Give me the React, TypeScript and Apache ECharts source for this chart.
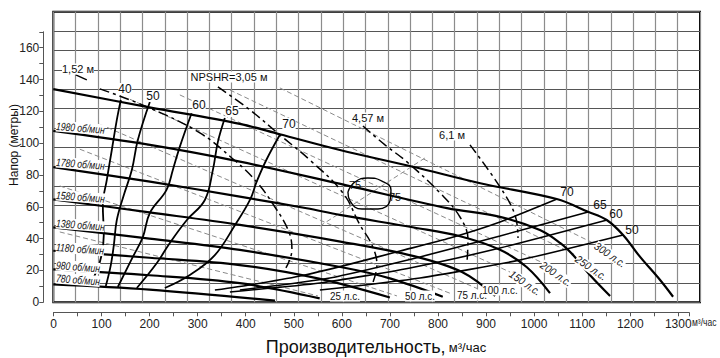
import React, { useEffect, useRef } from 'react';
import * as echarts from 'echarts';

// ---- axis values ----
const X_MAX = 1345;
const Y_MAX = 182.6;
const xTickMax = 1322;
const yTickMax = 170;

// ---- head curves (m3/h, m) ----
const speedNames = ['2180', '1980 об/мин', '1780 об/мин', '1580 об/мин', '1380 об/мин', '1180 об/мин', '980 об/мин', '780 об/мин'];
const h2180 = [[0, 133.9], [200, 122.5], [388, 112.1], [471, 105.6], [596, 95.7], [750, 85], [888, 74.8], [1047, 64.9], [1112, 56.9], [1151, 51.7], [1185, 42.3], [1220, 28.7], [1262, 14.0], [1289, 3.5]];
const h1980 = [[0, 107.7], [201, 98.9], [388, 88.4], [610, 73.5], [819, 59.2], [929, 53.7], [1012, 45.4], [1054, 37.3], [1081, 29.7], [1116, 17.2], [1158, 4]];
const h1780 = [[0, 84.9], [201, 75.8], [388, 66.4], [527, 59.1], [596, 54.9], [750, 47], [846, 41.5], [929, 33], [985, 22], [1033, 5.8]];
const h1580 = [[0, 64.7], [200, 56.5], [388, 48.6], [600, 38], [750, 29], [850, 19], [919, 4]];
const h1380 = [[0, 47.1], [200, 40], [388, 32.9], [600, 22], [700, 15], [810, 3.5]];
const h1180 = [[0, 32.4], [200, 28], [388, 23.4], [550, 15], [700, 3]];
const h980 = [[0, 20.7], [200, 17], [388, 12], [554, 2.5]];
const h780 = [[0, 11.3], [200, 8], [461, 1]];
const headCurves = [h2180, h1980, h1780, h1580, h1380, h1180, h980, h780];

// ---- efficiency contours (%) ----
const effNames = ['40', '50', '60', '65', '70'];
const eff40 = [[140.4, 127.2], [132.1, 114.6], [121.7, 95.7], [111.3, 76.9], [103, 61.2], [105, 42.3], [96.8, 25.3], [76, 10.9]];
const eff50 = [[200.8, 125.9], [175.8, 102], [163.3, 83.1], [146.7, 67.4], [132.1, 51.7], [125.9, 36], [119.6, 23.4], [109.2, 10.2]];
const eff60 = [[287.6, 118.8], [263.2, 97.8], [248.6, 83.2], [235.5, 70.6], [200.8, 56.1], [186.2, 41], [165.4, 28.5], [134.2, 9.6]];
const eff65 = [[356.8, 115.8], [342.3, 100.8], [331.9, 83.2], [315.2, 64.3], [277.8, 51.7], [242.4, 37.3], [215.4, 24.7], [173.7, 9]];
const eff70 = [[471, 105.1], [443, 89.4], [423, 75.8], [409, 64.3], [378, 48.6], [336, 29.7], [284, 17.2], [232, 9]];
const effRight70 = [[1047.7, 64.9], [929.1, 50.5], [825.1, 40.4], [721, 32.2], [617, 24.0], [513, 16.5], [408.9, 10.9], [336.1, 7.7]];
const effRight65 = [[1112.2, 56.8], [929.1, 41.7], [762.6, 28.5], [575.3, 15.3], [388, 7.7]];
const effRight60 = [[1151.7, 51.7], [929.1, 34.1], [741.8, 21.6], [554.5, 12.1], [367.3, 6.5]];
const effRight50 = [[1185, 42.3], [970.7, 26.6], [762.6, 15.3], [554.5, 7.7]];
const eff75 = [[612.8, 69.3], [627.4, 75.6], [654.4, 78.1], [683.5, 76.2], [702.3, 70.6], [700.2, 63.7], [675.2, 58.6], [641.9, 58.6], [617, 63.7], [612.8, 69.3]];
const effLeft = [eff40, eff50, eff60, eff65, eff70];
const effRight = [effRight70, effRight65, effRight60, effRight50];

// ---- NPSHR (m) ----
const npshNames = ['1,52 м', 'NPSHR=3,05 м', '4,57 м', '6,1 м'];
const npsh152Leader = [[46.8, 142.9], [69.7, 139.8]];
const npsh152 = [[96.8, 134.1], [200.8, 122.1], [304.8, 106.4], [371.4, 90.7], [419.3, 76.9], [460.9, 59.9], [490, 44.2], [496.3, 32.9], [483.8, 21.6]];
const npsh305 = [[342.3, 135.3], [408.9, 120.9], [471.3, 105.1], [533.7, 89.4], [602.4, 68.7], [637.8, 48.6], [662.7, 36], [673.1, 23.4], [662.7, 10.9]];
const npsh457 = [[644, 110.8], [689.8, 98.9], [735.6, 88.2], [804.3, 68.7], [845.8, 53.6], [862.5, 39.2], [860.4, 25.3]];
const npsh61 = [[866.6, 98.9], [929, 72.5], [960.2, 54.9], [966.5, 40.4]];

// ---- power (л.с.) ----
const powerNames = ['25 л.с.', '50 л.с.', '75 л.с.', '100 л.с.', '150 л.с.', '200 л.с.', '250 л.с.', '300 л.с.'];
const power25 = [[13.5, 44.2], [550.4, 4]];
const power50 = [[13.5, 73.1], [714.7, 4]];
const power75 = [[55.1, 96.2], [829.2, 5.2]];
const power100 = [[96.8, 111.9], [883.3, 8.4]];
const power150 = [[159.2, 127.6], [950, 19]];
const power200 = [[263.2, 130.3], [1014.4, 25.3]];
const power250 = [[367.3, 133.4], [1087.2, 29.7]];
const power300 = [[471.3, 134.7], [1131, 36]];
const powerLines = [power25, power50, power75, power100, power150, power200, power250, power300];
const guideRising = [[554.5, 47.9], [773, 90.7]];

const FONT = '"Liberation Sans", Arial, sans-serif';

export default function App() {
  const ref = useRef<HTMLDivElement>(null);
  useEffect(() => {
    if (!ref.current) return;
    const chart = echarts.init(ref.current, undefined, { renderer: 'svg' });
    const series: any[] = [];
    const line = (data: number[][], color: string, width: number, type: any, smooth: number | boolean = 0.3, z = 3) =>
      series.push({
        type: 'line', xAxisIndex: 0, yAxisIndex: 0, data, showSymbol: false, symbol: 'none', smooth,
        silent: true, z, lineStyle: { color, width, type }, clip: true,
      });
    powerLines.forEach((d) => line(d, '#8a8a8a', 1, [5, 3], false, 2));
    line(guideRising, '#8a8a8a', 1, [5, 3], false, 2);
    headCurves.forEach((d) => line(d, '#000', 2.2, 'solid', 0.35, 4));
    effLeft.forEach((d) => line(d, '#000', 1.8, 'solid', 0.4, 4));
    effRight.forEach((d) => line(d, '#000', 1.6, 'solid', 0.2, 4));
    line(eff75, '#000', 1.4, 'solid', 0.5, 4);
    line(npsh152Leader, '#000', 1.4, 'solid', false, 4);
    [npsh152, npsh305, npsh457, npsh61].forEach((d) => line(d, '#000', 1.5, [10, 4, 3, 4], 0.4, 4));

    const t = (text: string, x: number, y: number, size = 11, extra: any = {}) => ({
      type: 'text', x, y, z: 10, silent: true,
      style: { text, font: `${size}px ${FONT}`, fill: '#111', align: 'center', verticalAlign: 'middle', ...extra.style },
      rotation: extra.rotation || 0,
    });
    const graphics: any[] = [
      t('Напор (метры)', 14, 145, 12, { rotation: Math.PI / 2 }),
      { type: 'text', x: 376, y: 347, silent: true, style: {
        text: '{a|Производительность,} {b|м³/час}', align: 'center', verticalAlign: 'middle',
        rich: { a: { font: `18px ${FONT}`, fill: '#111' }, b: { font: `13px ${FONT}`, fill: '#111' } } } },
      { type: 'text', x: 692, y: 323, scaleX: 0.85, silent: true, style: { text: 'м³/час', font: `10px ${FONT}`, fill: '#222', align: 'left', verticalAlign: 'middle' } },
      t(npshNames[0], 78, 69, 11, { style: { backgroundColor: '#fff' } }),
      t(npshNames[1], 229, 77, 11, { style: { backgroundColor: '#fff' } }),
      t(npshNames[2], 368, 118, 11, { style: { backgroundColor: '#fff' } }),
      t(npshNames[3], 452, 135, 11, { style: { backgroundColor: '#fff' } }),
      t(effNames[0], 125, 89, 12, { style: { backgroundColor: '#fff' } }),
      t(effNames[1], 153, 96, 12, { style: { backgroundColor: '#fff' } }),
      t(effNames[2], 199, 105, 12, { style: { backgroundColor: '#fff' } }),
      t(effNames[3], 232, 111, 12, { style: { backgroundColor: '#fff' } }),
      t(effNames[4], 289, 124, 12, { style: { backgroundColor: '#fff' } }),
      t('70', 567, 192, 12),
      t('65', 600, 205, 12),
      t('60', 616, 214, 12),
      t('50', 632, 230, 12),
      t('75', 355, 185, 11),
      t('75', 395, 197, 11),
    ];
    const spY = [126, 162, 195, 223, 247, 265, 278];
    spY.forEach((y, i) => {
      graphics.push({ type: 'text', x: 56, y, z: 10, silent: true, rotation: -0.08, scaleX: 0.78,
        style: { text: speedNames[i + 1], font: `italic 11px ${FONT}`, fill: '#111', align: 'left', verticalAlign: 'middle', backgroundColor: '#fff' } });
    });
    const pw = [
      [345, 296, 0], [420, 296, 0], [472, 295, 0], [500, 290, 0],
      [525, 283, -0.6], [556, 274, -0.6], [591, 268, -0.6], [610, 255, -0.6],
    ];
    pw.forEach(([x, y, r], i) => {
      graphics.push({ type: 'text', x, y, z: 10, silent: true, rotation: r, scaleX: 0.9,
        style: { text: powerNames[i], font: `${i >= 4 ? 'italic ' : ''}11px ${FONT}`, fill: '#111', align: 'center', verticalAlign: 'middle', backgroundColor: '#fff' } });
    });

    chart.setOption({
      animation: false,
      grid: [
        { left: 53.3, top: 11.7, width: 646.7, height: 290.6, show: true, borderColor: '#000', borderWidth: 2, backgroundColor: '#fff', containLabel: false },
        { left: 53.5, top: 300, width: xTickMax * 0.4806, height: 12.3 },
        { left: 43.3, top: 302.3 - yTickMax * 1.5913, width: 1, height: yTickMax * 1.5913 },
      ],
      xAxis: [
        { gridIndex: 0, type: 'value', min: 0, max: X_MAX, show: false },
        { gridIndex: 0, type: 'value', min: 0, max: 29, interval: 1, axisLine: { show: false }, axisTick: { show: false }, axisLabel: { show: false }, splitLine: { show: true, lineStyle: { color: '#8c8c8c', width: 1.2 } } },
        { gridIndex: 1, type: 'value', min: 0, max: xTickMax, interval: 50, position: 'bottom',
          axisLine: { show: true, lineStyle: { color: '#555', width: 1 } },
          axisTick: { show: true, length: 4, lineStyle: { color: '#555' } },
          axisLabel: { show: true, margin: 6, fontSize: 12, color: '#222', fontFamily: FONT, formatter: (v: number) => (v % 100 === 0 ? String(v) : '') },
          splitLine: { show: false } },
        { gridIndex: 2, type: 'value', show: false, min: 0, max: 1 },
      ],
      yAxis: [
        { gridIndex: 0, type: 'value', min: 0, max: Y_MAX, show: false },
        { gridIndex: 0, type: 'value', min: 0, max: 15, interval: 1, axisLine: { show: false }, axisTick: { show: false }, axisLabel: { show: false }, splitLine: { show: true, lineStyle: { color: '#555', width: 1.2 } } },
        { gridIndex: 1, type: 'value', show: false, min: 0, max: 1 },
        { gridIndex: 2, type: 'value', min: 0, max: yTickMax, interval: 10, position: 'left',
          axisLine: { show: true, lineStyle: { color: '#555', width: 1 } },
          axisTick: { show: true, length: 4, lineStyle: { color: '#555' } },
          axisLabel: { show: true, margin: 4, fontSize: 12, color: '#222', fontFamily: FONT, formatter: (v: number) => (v % 20 === 0 ? String(v) : '') },
          splitLine: { show: false } },
      ],
      series,
      graphic: graphics,
    });
    return () => chart.dispose();
  }, []);
  return <div ref={ref} style={{ width: 720, height: 358, position: 'absolute', left: 0, top: 0, background: '#fff' }} />;
}
